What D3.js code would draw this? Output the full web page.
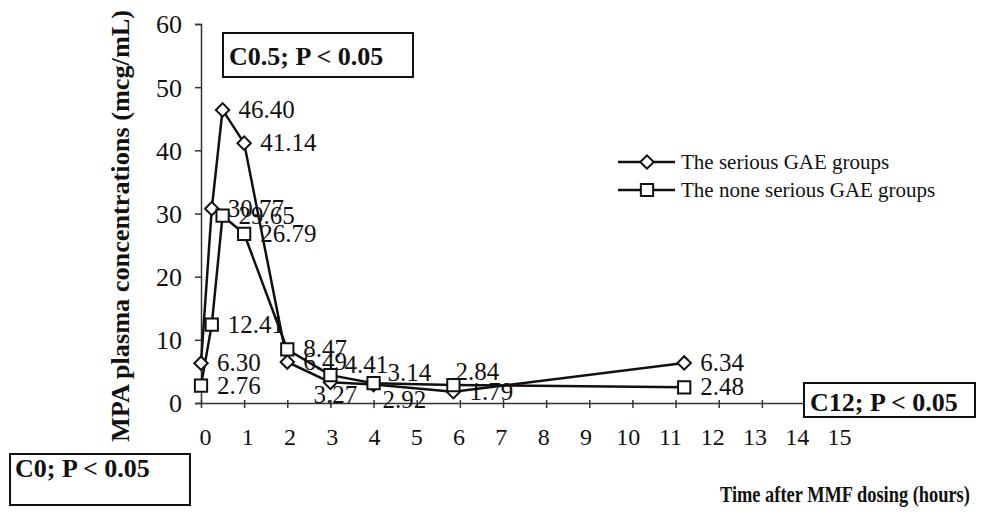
<!DOCTYPE html>
<html>
<head>
<meta charset="utf-8">
<script src="https://d3js.org/d3.v7.min.js"></script>
<style>
body{margin:0;background:#fff;}
svg text{font-family:"Liberation Serif","Times New Roman",serif !important;fill:#111;}
.b{font-weight:bold;}
</style>
</head>
<body>
<svg id="chart" width="989" height="519"></svg>
<script>
// sampling times as they sit on the plot (hours)
var hours=[0,0.25,0.5,1,2,3,4,5.85,11.2];
var serious=[6.30,30.77,46.40,41.14,6.49,3.27,2.92,1.79,6.34];
var noneSerious=[2.76,12.41,29.65,26.79,8.47,4.41,3.14,2.84,2.48];
var seriesNames=['The serious GAE groups','The none serious GAE groups'];
var yTicks=[0,10,20,30,40,50,60];
var xTickLabels=[0,1,2,3,4,5,6,7,8,9,10,11,12,13,14,15];
// where each data label sits relative to its point
var seriousPos=['r','r','r','r','r','b','br','r','r'];
var nonePos=['r','r','r','r','r','ru','ru','a','r'];

var svg=d3.select('#chart');
svg.append('rect').attr('width',989).attr('height',519).attr('fill','#fff');

var x=d3.scaleLinear().domain([0,14]).range([201,805]);
var y=d3.scaleLinear().domain([0,60]).range([403,24]);
var xl=d3.scaleLinear().domain([0,15]).range([205,839]);

// y axis
var ya=svg.append('g').attr('transform','translate(201,0)')
  .call(d3.axisLeft(y).tickValues(yTicks).tickSize(6).tickPadding(13));
ya.select('.domain').attr('stroke','#333').attr('stroke-width',1.5);
ya.selectAll('.tick line').attr('stroke','#333').attr('stroke-width',1.5);
ya.selectAll('text').attr('font-size',26).attr('dy','0.34em');

// x axis (ticks only)
var xa=svg.append('g').attr('transform','translate(0,403)')
  .call(d3.axisBottom(x).ticks(14).tickSize(5).tickSizeOuter(0).tickFormat(''));
xa.select('.domain').attr('stroke','#333').attr('stroke-width',1.5);
xa.selectAll('.tick line').attr('y1',-3).attr('stroke','#333').attr('stroke-width',1.5);

// x tick labels row, set apart from the ticks
var xb=svg.append('g').attr('transform','translate(0,428)')
  .call(d3.axisBottom(xl).tickValues(xTickLabels).tickSize(0).tickPadding(0));
xb.select('.domain').remove();
xb.selectAll('text').attr('font-size',24);

// lines
var line=d3.line().x(function(d){return x(d[0]);}).y(function(d){return y(d[1]);});
var sets=[serious,noneSerious];
var posSets=[seriousPos,nonePos];
sets.forEach(function(vals,k){
  var pts=hours.map(function(h,i){return [h,vals[i]];});
  svg.append('path').datum(pts).attr('d',line).attr('fill','none')
    .attr('stroke','#111').attr('stroke-width',2.5).attr('stroke-linejoin','round');
});

function marker(g,k,cx,cy){
  if(k==0){
    g.append('path').attr('d',d3.symbol().type(d3.symbolSquare).size(90)())
      .attr('transform','translate('+cx+','+cy+') rotate(45)')
      .attr('fill','#fff').attr('stroke','#111').attr('stroke-width',2);
  }else{
    g.append('path').attr('d',d3.symbol().type(d3.symbolSquare).size(150)())
      .attr('transform','translate('+cx+','+cy+')')
      .attr('fill','#fff').attr('stroke','#111').attr('stroke-width',2);
  }
}

sets.forEach(function(vals,k){
  var g=svg.append('g');
  hours.forEach(function(h,i){marker(g,k,x(h),y(vals[i]));});
});

// data labels
sets.forEach(function(vals,k){
  hours.forEach(function(h,i){
    var p=posSets[k][i], cx=x(h), cy=y(vals[i]);
    var dx=16, dy=8, anchor='start';
    if(p=='b'){dx=5;dy=21;anchor='middle';}
    if(p=='br'){dx=9;dy=23;}
    if(p=='ru'){dx=14;dy=-2;}
    if(p=='a'){dx=2;dy=-5;}
    svg.append('text').attr('x',cx+dx).attr('y',cy+dy).attr('text-anchor',anchor)
      .attr('font-size',25).text(vals[i].toFixed(2));
  });
});

// legend
seriesNames.forEach(function(n,k){
  var ly=162+k*28;
  svg.append('line').attr('x1',618).attr('x2',675).attr('y1',ly).attr('y2',ly)
    .attr('stroke','#111').attr('stroke-width',2.5);
  var g=svg.append('g');
  marker(g,k,647,ly);
  svg.append('text').attr('x',681).attr('y',ly+7).attr('font-size',21).text(n);
});

// axis titles
svg.append('text').attr('class','b').attr('transform','translate(129,226) rotate(-90)')
  .attr('text-anchor','middle').attr('font-size',25)
  .attr('textLength',432).attr('lengthAdjust','spacingAndGlyphs')
  .text('MPA plasma concentrations (mcg/mL)');
svg.append('text').attr('class','b').attr('transform','translate(720,502) scale(0.8,1)')
  .attr('font-size',23).text('Time after MMF dosing (hours)');

// significance boxes
function box(x0,y0,w,h,tx,ty,t){
  svg.append('rect').attr('x',x0).attr('y',y0).attr('width',w).attr('height',h)
    .attr('fill','#fff').attr('stroke','#111').attr('stroke-width',2);
  svg.append('text').attr('class','b').attr('x',tx).attr('y',ty).attr('font-size',26).text(t);
}
box(223,33,190,44,229,65,'C0.5; P < 0.05');
box(10,454,180,51,15,477,'C0; P < 0.05');
box(804,383,171,34,810,411,'C12; P < 0.05');
</script>
</body>
</html>
